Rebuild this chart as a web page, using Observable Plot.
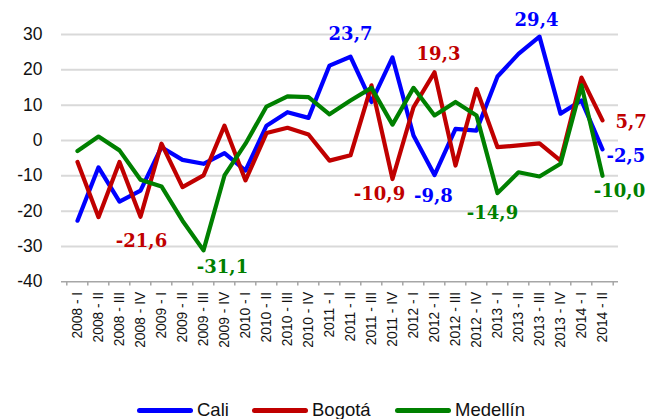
<!DOCTYPE html>
<html>
<head>
<meta charset="utf-8">
<script src="https://cdn.jsdelivr.net/npm/d3@7"></script>
<script src="https://cdn.jsdelivr.net/npm/@observablehq/plot@0.6"></script>
<style>
  html, body { margin: 0; padding: 0; background: #fff; }
  #wrap { position: relative; width: 665px; height: 419px; overflow: hidden; }
  #chart svg { display: block; }
  .leg { position: absolute; top: 399px; height: 22px; display: flex; align-items: center; gap: 4px;
         font-family: "Liberation Sans", sans-serif; font-size: 18.5px; color: #111; }
  .sw { width: 56px; height: 5px; border-radius: 3px; }
</style>
</head>
<body>
<div id="wrap">
  <div id="chart"></div>
  <div id="legend"></div>
</div>
<script>
const categories = ["2008 - I","2008 - II","2008 - III","2008 - IV","2009 - I","2009 - II","2009 - III","2009 - IV",
  "2010 - I","2010 - II","2010 - III","2010 - IV","2011 - I","2011 - II","2011 - III","2011 - IV",
  "2012 - I","2012 - II","2012 - III","2012 - IV","2013 - I","2013 - II","2013 - III","2013 - IV","2014 - I","2014 - II"];
const seriesNames = ["Cali", "Bogotá", "Medellín"];
const seriesColors = ["#0000ff", "#c00000", "#008000"];
const cali = [-22.7,-7.6,-17.3,-14.2,-1.9,-5.5,-6.6,-3.6,-8.5,4.2,8.0,6.4,21.2,23.7,10.9,23.5,1.4,-9.8,3.3,2.8,18.1,24.5,29.4,7.6,11.3,-2.5];
const bogota = [-6.1,-21.7,-6.1,-21.6,-0.9,-13.2,-9.9,4.2,-11.3,2.1,3.6,1.7,-5.7,-4.2,15.6,-10.9,9.4,19.3,-7.1,14.6,-1.9,-1.4,-0.8,-5.7,17.8,5.7];
const medellin = [-3.0,1.1,-2.8,-11.1,-13.0,-22.7,-31.1,-9.9,-0.9,9.6,12.5,12.3,7.4,11.3,14.9,4.5,14.9,7.1,10.9,7.1,-14.9,-9.0,-10.2,-6.6,15.6,-10.0];
const yTicks = [-40,-30,-20,-10,0,10,20,30];

const seriesValues = [cali, bogota, medellin];
const rows = [];
seriesNames.forEach((s, k) => seriesValues[k].forEach((v, i) => rows.push({series: s, cat: categories[i], value: v})));

const W = 665, H = 370, ML = 61, MR = 47, MT = 34, MB = H - 281.3;
const step = (W - ML - MR) / categories.length;
const fmt = v => v.toFixed(1).replace(".", ",");

function lab(k, i, dx, dy, anchor = "middle") {
  const arr = seriesValues[k];
  return Plot.text([i], {
    x: j => categories[j], y: j => arr[j], text: j => fmt(arr[j]),
    fill: seriesColors[k], dx, dy, textAnchor: anchor,
    fontFamily: "DejaVu Serif", fontWeight: "bold", fontSize: 18
  });
}

const chart = Plot.plot({
  width: W, height: H,
  marginLeft: ML, marginRight: MR, marginTop: MT, marginBottom: MB,
  style: {fontFamily: "Liberation Sans, sans-serif", background: "white", color: "#111"},
  x: {type: "point", domain: categories, padding: 0.5, label: null},
  y: {domain: [-40, 30], label: null},
  color: {domain: seriesNames, range: seriesColors},
  marks: [
    Plot.ruleY(yTicks.filter(t => t > -40), {stroke: "#d9d9d9", strokeWidth: 2}),
    Plot.ruleX(categories, {y1: -40, y2: -41.2, dx: -step / 2, stroke: "#a6a6a6", strokeWidth: 1.5}),
    Plot.ruleX([categories[categories.length - 1]], {y1: -40, y2: -41.2, dx: step / 2, stroke: "#a6a6a6", strokeWidth: 1.5}),
    Plot.ruleY([-40], {stroke: "#a6a6a6", strokeWidth: 1.5}),
    Plot.axisY({ticks: yTicks, tickFormat: d => String(d), tickSize: 0, tickPadding: 19, fontSize: 17.5, label: null}),
    Plot.axisX({tickSize: 0, tickPadding: 10, tickRotate: -90, fontSize: 13.8, label: null}),
    Plot.line(rows, {x: "cat", y: "value", stroke: "series", strokeWidth: 4.2}),
    lab(0, 13, 0, -23),
    lab(0, 22, -3, -16),
    lab(0, 17, -1, 21),
    lab(0, 25, 4, 7, "start"),
    lab(1, 17, 4, -18),
    lab(1, 3, 1, 24),
    lab(1, 15, -13, 15),
    lab(1, 25, 13, 2, "start"),
    lab(2, 6, 19, 17),
    lab(2, 20, -5, 20),
    lab(2, 25, 17, 15)
  ]
});
document.getElementById("chart").appendChild(chart);

const legendLeft = [137, 252, 395];
const legend = document.getElementById("legend");
seriesNames.forEach((s, k) => {
  const item = document.createElement("div");
  item.className = "leg";
  item.style.left = legendLeft[k] + "px";
  const sw = document.createElement("div");
  sw.className = "sw";
  sw.style.background = seriesColors[k];
  const t = document.createElement("span");
  t.textContent = s;
  item.appendChild(sw); item.appendChild(t);
  legend.appendChild(item);
});
</script>
</body>
</html>
